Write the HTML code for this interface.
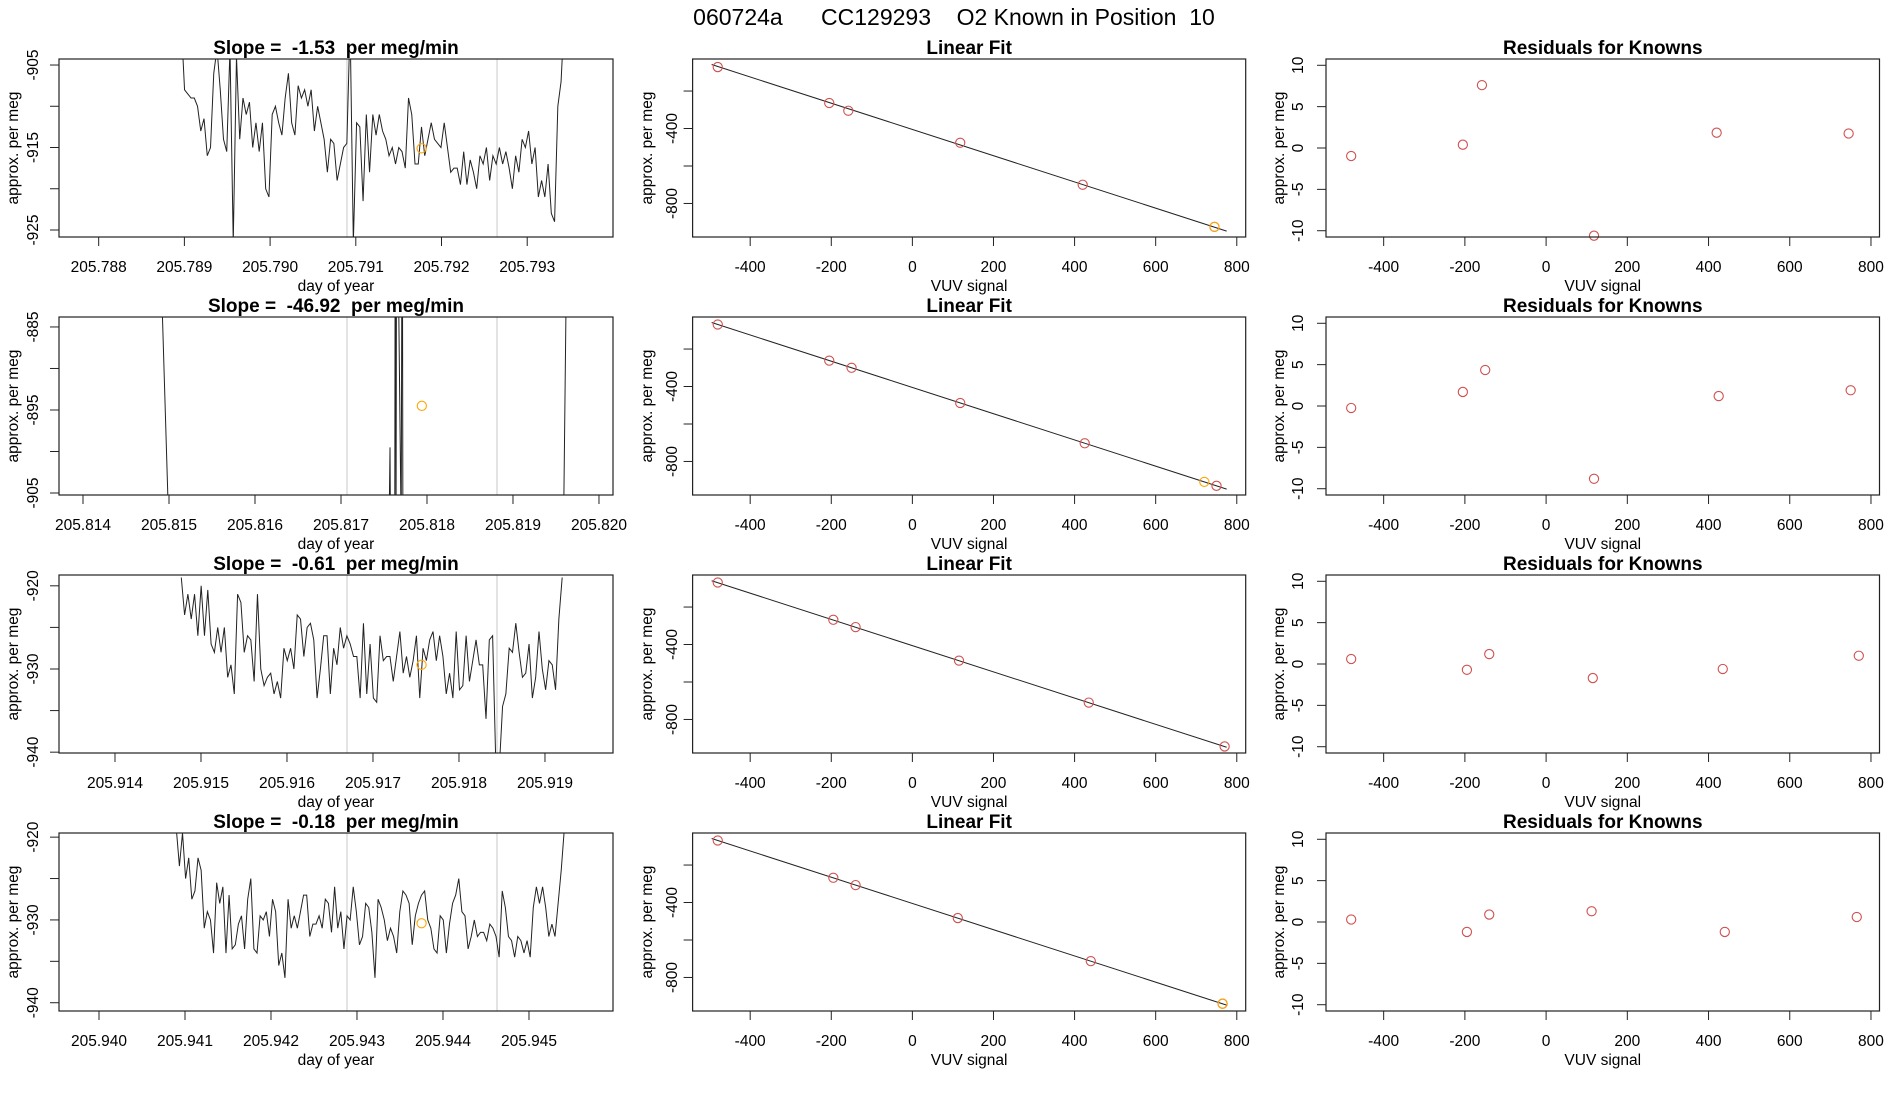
<!DOCTYPE html>
<html><head><meta charset="utf-8"><style>
html,body{margin:0;padding:0;background:#fff;}
svg{display:block;font-family:"Liberation Sans",sans-serif;}
text{white-space:pre;}
</style></head><body>
<svg id="chart" width="1900" height="1100" viewBox="0 0 1900 1100" xmlns="http://www.w3.org/2000/svg">
<text x="954" y="25" text-anchor="middle" font-size="23" xml:space="preserve">060724a      CC129293    O2 Known in Position  10</text>
</svg>
<script>
// ---------- data ----------
const slopes = ["-1.53", "-46.92", "-0.61", "-0.18"];
const tsStart = [205.788964, null, 205.914771, 205.940899];
const tsEnd = [205.793433, null, 205.919200, 205.945411];
const series1 = [-900,-908,-908.5,-909,-909,-910,-913,-911.5,-916,-915,-906,-903,-908,-914,-915.5,-903,-926.5,-904,-914,-909,-911,-909.5,-915,-912,-915.5,-912,-920,-921,-911,-910,-912,-913.5,-909,-906,-912,-913.5,-907.5,-909,-908,-910,-908,-913,-910,-912,-914,-918,-914,-914.5,-919,-917,-915,-914.5,-900,-926.5,-912,-912.5,-921.5,-911,-918,-911,-913.5,-911,-913,-914,-916,-915,-917,-915,-915.5,-917.5,-909,-911,-917,-917,-912.5,-916,-914,-912,-914,-914.5,-915,-912,-915,-918,-917.5,-917.5,-919.5,-915.5,-919.5,-916.5,-918,-920,-916,-917,-915,-919,-916,-917,-915,-917,-915.5,-917.5,-920,-916,-918,-914,-915,-913,-917,-915,-921,-919,-921,-917,-923,-924,-910,-907,-899];
const series2Dates = [205.814884,205.815000,205.817558,205.817570,205.817576,205.817625,205.817632,205.817640,205.817648,205.817700,205.817712,205.817720,205.819587,205.819630];
const series2 = [-870,-910,-910,-899.5,-910,-910,-860,-910,-860,-910,-860,-910,-910,-870];
const series3 = [-919,-923.5,-921,-924,-921,-926,-920,-926,-920.5,-927,-928,-925,-928,-925,-931,-929.5,-933,-921,-922,-928,-926,-926.5,-931.5,-921,-930,-932,-931,-930.5,-933,-931.5,-933.5,-927.5,-929,-927.5,-930,-923.5,-924,-928.5,-925,-924.5,-926.5,-933.5,-930,-926,-926,-933,-927.5,-929.5,-925,-927.5,-926,-927,-928.5,-928.5,-933.5,-924.5,-933,-927,-933.5,-934,-926,-929,-928.5,-928.5,-931.5,-928.5,-925.5,-930.5,-928.5,-931,-929,-926,-933.5,-927.5,-929,-926.5,-925.5,-929,-926,-928.5,-933,-930.5,-933.5,-925.5,-932.5,-932,-926,-931.5,-929,-926.5,-929.5,-929.5,-936,-926.5,-926,-942,-942,-934.5,-933,-927.5,-928,-924.5,-928,-931,-930.5,-927,-933.5,-931,-925.5,-930,-932.5,-929,-929.5,-932.5,-924,-919];
const series4 = [-919,-923.5,-919.5,-925,-922.5,-927.5,-926.5,-922.5,-924,-931,-929,-930,-934,-925.5,-928,-926,-934,-927,-933.5,-933,-930.5,-929.5,-933.5,-927.5,-925,-933.5,-934,-929.5,-930,-929,-932,-927.5,-929,-935.5,-934,-937,-927.5,-931,-929.5,-931,-929,-927,-927,-932,-930.5,-930.5,-929.5,-931,-927.5,-928,-931.5,-926,-931,-929,-933.5,-929.5,-930,-926,-929,-933,-932,-928,-928.5,-931.5,-937,-927.5,-928.5,-930,-932.5,-931,-932,-934,-929,-926.5,-927,-928,-933,-929.5,-928,-927,-926.5,-930,-931,-933.5,-934,-929.5,-930,-934,-930.5,-928,-927,-925,-929,-929.5,-933.5,-932,-930,-932,-931.5,-931.5,-932.5,-930.5,-931,-932,-934.5,-926.5,-928.5,-932,-932.5,-934.5,-932,-932.5,-934,-932.5,-934.5,-928.5,-926,-928,-926,-928.5,-932,-930.5,-932,-928,-924,-919];
const knownDate = [205.791768, 205.817940, 205.917565, 205.943751];
const knownValue = [-915.1, -894.5, -929.5, -930.4];
const greyLine1 = [205.790897, 205.817070, 205.916698, 205.942884];
const greyLine2 = [205.792648, 205.818814, 205.918442, 205.944628];
const tsXMin = [205.787537, 205.813721, 205.913349, 205.939535];
const tsXMax = [205.794001, 205.820163, 205.919791, 205.945977];
const tsYMin = [-925.85, -905.24, -940.1, -941];
const tsYMax = [-904.27, -883.8, -918.7, -919.5];
const tsXTicks = [
  ["205.788","205.789","205.790","205.791","205.792","205.793"],
  ["205.814","205.815","205.816","205.817","205.818","205.819","205.820"],
  ["205.914","205.915","205.916","205.917","205.918","205.919"],
  ["205.940","205.941","205.942","205.943","205.944","205.945"]];
const tsYTicks = [[-905,-910,-915,-920,-925],[-885,-890,-895,-900,-905],[-920,-925,-930,-935,-940],[-920,-925,-930,-935,-940]];
const tsYLabels = [["-905","","-915","","-925"],["-885","","-895","","-905"],["-920","","-930","","-940"],["-920","","-930","","-940"]];

const vuv = [[-480,-205,-158,118,420,745],[-480,-205,-150,118,425,750],[-480,-195,-140,115,435,770],[-480,-195,-140,112,440,765]];
const perMeg = [[-72,-264,-305,-476,-700,-925],[-69,-262,-300,-488,-703,-930],[-69,-268,-307,-486,-710,-944],[-69,-268,-307,-483,-713,-940]];
const knownVuv = [745, 720, null, 765];
const knownPerMeg = [-925, -909, null, -940];
const fitIntercept = [-405, -405, -406, -405];
const fitSlope = [-0.70, -0.70, -0.70, -0.70];
const fitXRange = [-495, 775];
const residuals = [[-0.97,0.4,7.6,-10.6,1.85,1.75],[-0.24,1.7,4.35,-8.8,1.2,1.9],[0.6,-0.7,1.2,-1.7,-0.6,1.0],[0.3,-1.2,0.9,1.3,-1.2,0.6]];
const vuvTicks = [-400,-200,0,200,400,600,800];
const fitYTicks = [-200,-400,-600,-800];
const fitYLabels = ["","-400","","-800"];
const resYTicks = [-10,-5,0,5,10];

// ---------- drawing ----------
const svg = document.getElementById('chart');
const NS = 'http://www.w3.org/2000/svg';
function mk(tag, attrs, parent){
  const e = document.createElementNS(NS, tag);
  for (const k in attrs) e.setAttribute(k, attrs[k]);
  (parent||svg).appendChild(e);
  return e;
}
const rowTop = [59, 317, 575, 833];
const H = 178;
const cols = [{l:59,r:613,yl:13,tl:33},{l:692.6,r:1245.7,yl:647,tl:672},{l:1326,r:1879.5,yl:1279,tl:1298}];
function lin(d0,d1,p0,p1){return v => p0 + (v-d0)/(d1-d0)*(p1-p0);}

function frame(g, c, top, title, xlab, ylab){
  const b = mk('rect',{x:c.l,y:top,width:c.r-c.l,height:H,fill:'none',stroke:'#222','stroke-width':1.2},g);
  
  
  const t = mk('text',{x:(c.l+c.r)/2,y:top-5,'text-anchor':'middle','font-size':19,'font-weight':'bold'},g);
  t.textContent = title;
  
  
  const xl = mk('text',{x:(c.l+c.r)/2,y:top+H+54,'text-anchor':'middle','font-size':15.5},g);
  xl.textContent = xlab;
  
  
  const cy = top+H/2;
  const yl = mk('text',{x:c.yl+5,y:cy,'text-anchor':'middle','font-size':15.5,transform:`rotate(-90 ${c.yl+5} ${cy})`},g);
  yl.textContent = ylab;
  
  
}
function xTick(g, px, bottom, label){
  const l = mk('line',{x1:px,x2:px,y1:bottom,y2:bottom+9,stroke:'#222','stroke-width':1},g);
  
  
  const t = mk('text',{x:px,y:bottom+35,'text-anchor':'middle','font-size':15.5},g);
  t.textContent = label;
  
  
}
function yTick(g, c, py, label){
  const l = mk('line',{x1:c.l-9,x2:c.l,y1:py,y2:py,stroke:'#222','stroke-width':1},g);
  
  
  if(label){
    const tx = c.tl+5;
    const t = mk('text',{x:tx,y:py,'text-anchor':'middle','font-size':15.5,transform:`rotate(-90 ${tx} ${py})`},g);
    t.textContent = label;
    
    
  }
}
function point(g, px, py, color, name){
  const p = mk('circle',{cx:px,cy:py,r:4.6,fill:'none',stroke:color,'stroke-width':1.1},g);
  
  
}

const tsSeries = [series1, null, series3, series4];
for (let r=0;r<4;r++){
  const top = rowTop[r], bottom = top+H;
  let c = cols[0];
  const g1 = mk('g',{});
  
  
  const X = lin(tsXMin[r], tsXMax[r], c.l, c.r);
  const Y = lin(tsYMin[r], tsYMax[r], bottom, top);
  const cid = 'clip'+r;
  const cp = mk('clipPath',{id:cid},g1);
  mk('rect',{x:c.l,y:top,width:c.r-c.l,height:H},cp);
  [greyLine1[r], greyLine2[r]].forEach(d=>{
    const gl = mk('line',{x1:X(d),x2:X(d),y1:top,y2:bottom,stroke:'#c8c8c8','stroke-width':1},g1);
    
    
  });
  let pts = [];
  if (r===1){
    pts = series2.map((v,i)=>X(series2Dates[i]).toFixed(2)+','+Y(v).toFixed(2));
  } else {
    const s = tsSeries[r], n = s.length;
    pts = s.map((v,i)=>X(tsStart[r]+(tsEnd[r]-tsStart[r])*i/(n-1)).toFixed(2)+','+Y(v).toFixed(2));
  }
  const pl = mk('polyline',{points:pts.join(' '),fill:'none',stroke:'#222','stroke-width':1,'clip-path':`url(#${cid})`},g1);
  
  
  point(g1, X(knownDate[r]), Y(knownValue[r]), '#ffa500', 'known-point');
  frame(g1, c, top, 'Slope =  '+slopes[r]+'  per meg/min', 'day of year', 'approx. per meg');
  tsXTicks[r].forEach(lbl=>xTick(g1, X(parseFloat(lbl)), bottom, lbl));
  tsYTicks[r].forEach((v,i)=>yTick(g1, c, Y(v), tsYLabels[r][i]));

  c = cols[1];
  const g2 = mk('g',{});
  
  
  const X2 = lin(-542, 822, c.l, c.r);
  const Y2 = lin(-979, -29, bottom, top);
  const fl = mk('line',{x1:X2(fitXRange[0]),y1:Y2(fitIntercept[r]+fitSlope[r]*fitXRange[0]),x2:X2(fitXRange[1]),y2:Y2(fitIntercept[r]+fitSlope[r]*fitXRange[1]),stroke:'#222','stroke-width':1},g2);
  
  
  vuv[r].forEach((v,i)=>point(g2, X2(v), Y2(perMeg[r][i]), '#d05050', 'standard-point'));
  if (knownVuv[r]!==null) point(g2, X2(knownVuv[r]), Y2(knownPerMeg[r]), '#ffa500', 'known-point');
  frame(g2, c, top, 'Linear Fit', 'VUV signal', 'approx. per meg');
  vuvTicks.forEach(v=>xTick(g2, X2(v), bottom, String(v)));
  fitYTicks.forEach((v,i)=>yTick(g2, c, Y2(v), fitYLabels[i]));

  c = cols[2];
  const g3 = mk('g',{});
  
  
  const X3 = lin(-542, 821, c.l, c.r);
  const Y3 = lin(-10.76, 10.76, bottom, top);
  vuv[r].forEach((v,i)=>point(g3, X3(v), Y3(residuals[r][i]), '#d05050', 'residual-point'));
  frame(g3, c, top, 'Residuals for Knowns', 'VUV signal', 'approx. per meg');
  vuvTicks.forEach(v=>xTick(g3, X3(v), bottom, String(v)));
  resYTicks.forEach(v=>yTick(g3, c, Y3(v), String(v)));
}
</script>
</body></html>
